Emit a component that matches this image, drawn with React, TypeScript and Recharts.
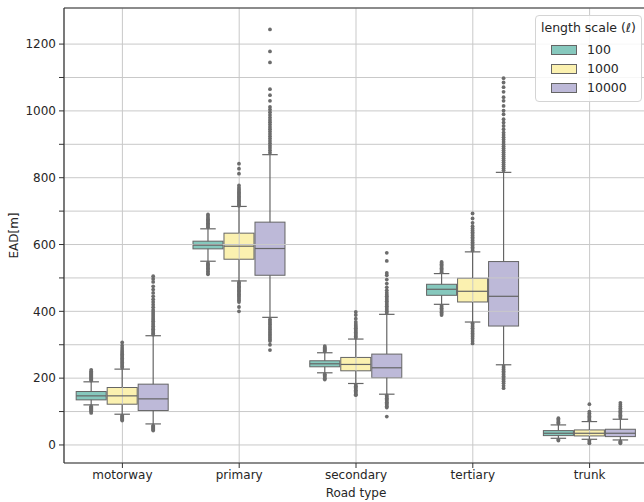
import React from 'react';
import { ComposedChart, Bar, XAxis, YAxis, CartesianGrid, Label } from 'recharts';

const ROADS = ['motorway', 'primary', 'secondary', 'tertiary', 'trunk'];
const SCALES = ['100', '1000', '10000'];

// [lower whisker, q1, median, q3, upper whisker] per road type
const STATS_100 = [
    [120, 135, 147, 160, 189],
    [550, 587, 598, 610, 647],
    [216, 234, 243, 252, 276],
    [421, 448, 466, 481, 513],
    [20, 28, 35, 43, 60],
];
const STATS_1000 = [
    [92, 122, 147, 172, 227],
    [491, 556, 595, 634, 714],
    [184, 222, 241, 262, 317],
    [368, 428, 460, 499, 578],
    [17, 27, 35, 45, 70],
];
const STATS_10000 = [
    [63, 103, 138, 182, 327],
    [382, 508, 588, 667, 869],
    [152, 201, 231, 272, 391],
    [240, 356, 445, 549, 816],
    [15, 25, 35, 47, 77],
];

// outliers per road type
const FLIERS_100 = [
    [193, 196, 199, 202, 205, 208, 211, 214, 217, 221, 225, 116, 113, 110, 107, 104, 100, 96],
    [652, 656, 660, 664, 668, 672, 676, 680, 685, 690, 545, 541, 537, 533, 529, 525, 520, 515, 511],
    [280, 283, 286, 289, 292, 296, 212, 208, 204, 200, 196],
    [517, 521, 525, 529, 533, 537, 541, 545, 548, 417, 413, 409, 405, 401, 397, 393, 389],
    [64, 68, 72, 76, 80, 16, 13],
];
const FLIERS_1000 = [
    [231, 235, 239, 243, 247, 251, 255, 259, 263, 267, 271, 275, 279, 284, 290, 297, 307, 88, 85, 82, 79, 76, 73],
    [716, 720, 724, 728, 732, 736, 740, 744, 748, 752, 756, 760, 765, 770, 777, 812, 827, 842,
        487, 483, 479, 475, 471, 467, 463, 459, 455, 451, 447, 443, 438, 433, 428, 413, 400],
    [321, 325, 329, 333, 337, 341, 345, 349, 353, 357, 362, 368, 378, 389, 398,
        180, 176, 172, 168, 164, 160, 156, 152, 149],
    [582, 587, 592, 597, 602, 607, 612, 617, 622, 627, 632, 637, 642, 648, 655, 665, 678, 693,
        364, 359, 354, 349, 344, 339, 334, 329, 324, 318, 311, 304],
    [74, 78, 82, 86, 90, 95, 100, 122, 13, 9, 5],
];
const FLIERS_10000 = [
    [330, 334, 338, 342, 346, 350, 355, 360, 365, 370, 375, 380, 386, 392, 398, 404, 412, 420, 428, 436,
        445, 455, 465, 475, 488, 497, 505, 58, 55, 52, 49, 46, 43],
    [875, 882, 889, 896, 903, 910, 917, 924, 931, 938, 945, 952, 959, 966, 973, 980, 988, 996, 1004, 1012,
        1030, 1047, 1065, 1145, 1178, 1244,
        376, 371, 366, 361, 356, 351, 346, 341, 336, 331, 326, 321, 316, 311, 300, 284],
    [395, 400, 405, 410, 415, 420, 425, 430, 435, 440, 445, 450, 456, 463, 472, 483, 495, 508, 515, 551, 575,
        148, 144, 140, 136, 132, 128, 124, 120, 116, 112, 85],
    [822, 828, 834, 840, 846, 852, 858, 864, 870, 876, 882, 888, 894, 900, 907, 914, 921, 928, 935, 945,
        955, 965, 975, 990, 1001, 1015, 1030, 1041, 1057, 1071, 1085, 1098,
        236, 231, 226, 221, 216, 211, 206, 201, 196, 191, 185, 177, 170],
    [81, 85, 89, 93, 97, 101, 105, 110, 115, 120, 126, 11, 8, 5],
];

const Y_TICKS = [0, 100, 200, 300, 400, 500, 600, 700, 800, 900, 1000, 1100, 1200];

const FILLS = ['#86c8bd', '#fbf1b0', '#bdb9d8'];
const EDGE = '#656565';
const FLIER = '#6c6c6c';
const GRID = '#c9c9c9';
const SPINE = '#333333';
const TEXT = '#262626';

const STATS = [STATS_100, STATS_1000, STATS_10000];
const FLIERS = [FLIERS_100, FLIERS_1000, FLIERS_10000];

const rows = ROADS.map((road, i) => {
    const row: any = { road };
    STATS.forEach((s, k) => {
        row['box' + k] = [s[i][1], s[i][3]];
        row['st' + k] = s[i];
        row['fl' + k] = FLIERS[k][i];
    });
    return row;
});

// box patch (drawn below the grid, like matplotlib patches)
const makeBox = (k: number) => (props: any) => {
    const { x, y, width, height } = props;
    return (
        <rect x={x + 0.5} y={y} width={width - 1} height={height}
            fill={FILLS[k]} stroke={EDGE} strokeWidth={1} />
    );
};

// whiskers, caps, median and fliers (drawn above the grid)
const makeLines = (k: number) => (props: any) => {
    const { x, y, width, height, payload } = props;
    const st = payload['st' + k];
    const fl: number[] = payload['fl' + k];
    const py = (v: number) => y + ((st[3] - v) / (st[3] - st[1])) * height;
    const cx = x + width / 2;
    const cap = width / 4;
    return (
        <g stroke={EDGE} strokeWidth={1.2}>
            <line x1={cx} x2={cx} y1={py(st[4])} y2={y} />
            <line x1={cx} x2={cx} y1={y + height} y2={py(st[0])} />
            <line x1={cx - cap} x2={cx + cap} y1={py(st[4])} y2={py(st[4])} />
            <line x1={cx - cap} x2={cx + cap} y1={py(st[0])} y2={py(st[0])} />
            <line x1={x + 0.5} x2={x + width - 0.5} y1={py(st[2])} y2={py(st[2])} />
            {fl.map((v, i) => (
                <circle key={i} cx={cx} cy={py(v)} r={1.9} fill={FLIER} stroke="none" />
            ))}
        </g>
    );
};

const LegendBox = () => (
    <div style={{
        position: 'absolute', left: 535, top: 15,
        width: 107, height: 87, boxSizing: 'border-box', background: 'rgba(255,255,255,0.85)',
        border: '1px solid #d4d4d4', borderRadius: 4, fontSize: 12.5, color: TEXT,
        fontFamily: 'DejaVu Sans',
    }}>
        <div style={{ textAlign: 'center', marginTop: 4, lineHeight: '15px', whiteSpace: 'nowrap' }}>
            length scale (<i>ℓ</i>)
        </div>
        <div style={{ marginTop: 5 }}>
            {SCALES.map((s, i) => (
                <div key={s} style={{ display: 'flex', alignItems: 'center', height: 19 }}>
                    <span style={{
                        display: 'inline-block', width: 26, height: 10, marginLeft: 15, marginRight: 10,
                        background: FILLS[i], border: `1px solid ${EDGE}`, boxSizing: 'border-box',
                    }} />
                    <span>{s}</span>
                </div>
            ))}
        </div>
    </div>
);

const YLabel = (props: any) => {
    const { viewBox } = props;
    const cy = viewBox.y + viewBox.height / 2;
    return (
        <text x={14} y={cy} transform={`rotate(-90, 14, ${cy})`} textAnchor="middle"
            dominantBaseline="central" fontSize={12} fill={TEXT}>EAD[m]</text>
    );
};

export default function App() {
    return (
        <div style={{ position: 'absolute', left: 0, top: 0, width: 644, height: 502, overflow: 'hidden', background: '#fff' }}>
            <ComposedChart width={648} height={502} data={rows}
                margin={{ top: 7, right: 0, bottom: 0, left: 0 }}
                barCategoryGap="10%" barGap={0}
                style={{ fontFamily: 'DejaVu Sans' }}>
                <XAxis dataKey="road" height={39} tickSize={5} tickMargin={2}
                    tick={{ fontSize: 12, fill: TEXT }} stroke={SPINE}
                    axisLine={{ stroke: SPINE, strokeWidth: 1.2 }} tickLine={{ stroke: SPINE }}>
                    <Label value="Road type" position="insideBottom" offset={5} fontSize={12} fill={TEXT} />
                </XAxis>
                <XAxis xAxisId="top" dataKey="road" orientation="top" height={1} tick={false}
                    tickLine={false} axisLine={{ stroke: SPINE, strokeWidth: 1.2 }} />
                <YAxis width={64} domain={[-54, 1308]} ticks={Y_TICKS} allowDataOverflow
                    interval={0} tickSize={5} tickMargin={3}
                    tickFormatter={(v: number) => (v % 200 === 0 ? String(v) : '')}
                    tick={{ fontSize: 12, fill: TEXT }}
                    axisLine={{ stroke: SPINE, strokeWidth: 1.2 }} tickLine={{ stroke: SPINE }}>
                    <Label content={<YLabel />} />
                </YAxis>
                {SCALES.map((s, k) => (
                    <Bar key={'b' + s} dataKey={'box' + k} shape={makeBox(k)} isAnimationActive={false} />
                ))}
                <CartesianGrid stroke={GRID} strokeWidth={1} zIndex={350} />
                {SCALES.map((s, k) => (
                    <Bar key={'l' + s} xAxisId="top" dataKey={'box' + k} shape={makeLines(k)}
                        isAnimationActive={false} zIndex={450} />
                ))}
            </ComposedChart>
            <LegendBox />
        </div>
    );
}
